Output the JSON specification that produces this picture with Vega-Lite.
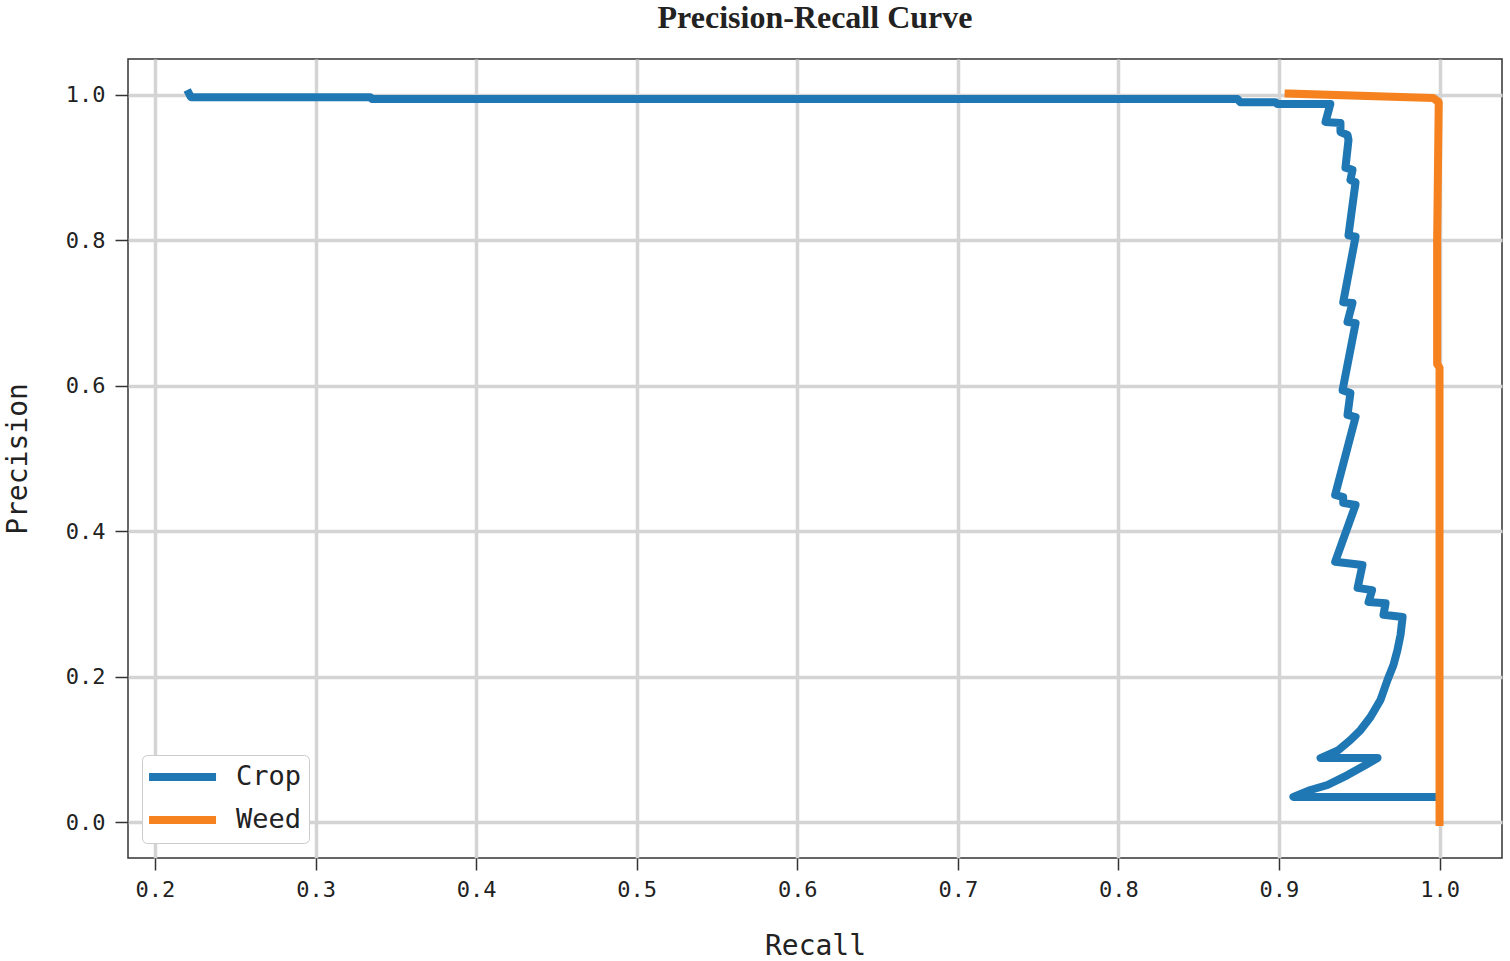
{
  "$schema": "https://vega.github.io/schema/vega-lite/v6.json",
  "autosize": {"type": "none"},
  "padding": {"left": 128, "top": 59, "right": 8, "bottom": 103},
  "width": 1374,
  "height": 799,
  "background": "white",
  "config": {
    "view": {"stroke": "#333333", "strokeWidth": 1.5},
    "font": "DejaVu Sans Mono"
  },
  "title": {
    "text": "Precision-Recall Curve",
    "font": "Liberation Serif",
    "fontSize": 32,
    "fontWeight": "bold",
    "color": "#222222",
    "anchor": "middle",
    "offset": 24
  },
  "data": {
    "values": [
      {"class": "Crop", "i": 0, "recall": 0.2212, "precision": 1.002},
      {"class": "Crop", "i": 1, "recall": 0.2224, "precision": 0.997},
      {"class": "Crop", "i": 2, "recall": 0.334, "precision": 0.997},
      {"class": "Crop", "i": 3, "recall": 0.3352, "precision": 0.9945},
      {"class": "Crop", "i": 4, "recall": 0.8741, "precision": 0.9945},
      {"class": "Crop", "i": 5, "recall": 0.876, "precision": 0.990},
      {"class": "Crop", "i": 6, "recall": 0.8978, "precision": 0.990},
      {"class": "Crop", "i": 7, "recall": 0.899, "precision": 0.9876},
      {"class": "Crop", "i": 8, "recall": 0.932, "precision": 0.9876},
      {"class": "Crop", "i": 9, "recall": 0.929, "precision": 0.963},
      {"class": "Crop", "i": 10, "recall": 0.9383, "precision": 0.9615},
      {"class": "Crop", "i": 11, "recall": 0.9383, "precision": 0.949},
      {"class": "Crop", "i": 12, "recall": 0.9427, "precision": 0.945},
      {"class": "Crop", "i": 13, "recall": 0.9433, "precision": 0.938},
      {"class": "Crop", "i": 14, "recall": 0.9414, "precision": 0.900},
      {"class": "Crop", "i": 15, "recall": 0.9458, "precision": 0.897},
      {"class": "Crop", "i": 16, "recall": 0.9445, "precision": 0.883},
      {"class": "Crop", "i": 17, "recall": 0.9477, "precision": 0.880},
      {"class": "Crop", "i": 18, "recall": 0.9433, "precision": 0.807},
      {"class": "Crop", "i": 19, "recall": 0.9477, "precision": 0.805},
      {"class": "Crop", "i": 20, "recall": 0.940, "precision": 0.715},
      {"class": "Crop", "i": 21, "recall": 0.9458, "precision": 0.714},
      {"class": "Crop", "i": 22, "recall": 0.9427, "precision": 0.688},
      {"class": "Crop", "i": 23, "recall": 0.9477, "precision": 0.686},
      {"class": "Crop", "i": 24, "recall": 0.9396, "precision": 0.594},
      {"class": "Crop", "i": 25, "recall": 0.9445, "precision": 0.590},
      {"class": "Crop", "i": 26, "recall": 0.9427, "precision": 0.560},
      {"class": "Crop", "i": 27, "recall": 0.9477, "precision": 0.557},
      {"class": "Crop", "i": 28, "recall": 0.935, "precision": 0.450},
      {"class": "Crop", "i": 29, "recall": 0.940, "precision": 0.447},
      {"class": "Crop", "i": 30, "recall": 0.940, "precision": 0.439},
      {"class": "Crop", "i": 31, "recall": 0.9477, "precision": 0.436},
      {"class": "Crop", "i": 32, "recall": 0.935, "precision": 0.358},
      {"class": "Crop", "i": 33, "recall": 0.952, "precision": 0.3535},
      {"class": "Crop", "i": 34, "recall": 0.949, "precision": 0.322},
      {"class": "Crop", "i": 35, "recall": 0.958, "precision": 0.319},
      {"class": "Crop", "i": 36, "recall": 0.9558, "precision": 0.3026},
      {"class": "Crop", "i": 37, "recall": 0.9664, "precision": 0.301},
      {"class": "Crop", "i": 38, "recall": 0.9651, "precision": 0.285},
      {"class": "Crop", "i": 39, "recall": 0.977, "precision": 0.282},
      {"class": "Crop", "i": 40, "recall": 0.9757, "precision": 0.2572},
      {"class": "Crop", "i": 41, "recall": 0.9738, "precision": 0.2366},
      {"class": "Crop", "i": 42, "recall": 0.9713, "precision": 0.216},
      {"class": "Crop", "i": 43, "recall": 0.9676, "precision": 0.1953},
      {"class": "Crop", "i": 44, "recall": 0.9632, "precision": 0.1678},
      {"class": "Crop", "i": 45, "recall": 0.957, "precision": 0.1444},
      {"class": "Crop", "i": 46, "recall": 0.9508, "precision": 0.1265},
      {"class": "Crop", "i": 47, "recall": 0.9445, "precision": 0.1128},
      {"class": "Crop", "i": 48, "recall": 0.9371, "precision": 0.099},
      {"class": "Crop", "i": 49, "recall": 0.9259, "precision": 0.088},
      {"class": "Crop", "i": 50, "recall": 0.9614, "precision": 0.088},
      {"class": "Crop", "i": 51, "recall": 0.9539, "precision": 0.0784},
      {"class": "Crop", "i": 52, "recall": 0.9427, "precision": 0.0646},
      {"class": "Crop", "i": 53, "recall": 0.9302, "precision": 0.0509},
      {"class": "Crop", "i": 54, "recall": 0.9196, "precision": 0.044},
      {"class": "Crop", "i": 55, "recall": 0.909, "precision": 0.0344},
      {"class": "Crop", "i": 56, "recall": 0.9988, "precision": 0.0344},
      {"class": "Weed", "i": 0, "recall": 0.906, "precision": 1.002},
      {"class": "Weed", "i": 1, "recall": 0.996, "precision": 0.996},
      {"class": "Weed", "i": 2, "recall": 0.9995, "precision": 0.99},
      {"class": "Weed", "i": 3, "recall": 0.9985, "precision": 0.80},
      {"class": "Weed", "i": 4, "recall": 0.9985, "precision": 0.63},
      {"class": "Weed", "i": 5, "recall": 1.0, "precision": 0.625},
      {"class": "Weed", "i": 6, "recall": 1.0, "precision": 0.0}
    ]
  },
  "mark": {"type": "line", "strokeWidth": 8, "strokeCap": "square", "strokeJoin": "round", "clip": true},
  "encoding": {
    "x": {
      "field": "recall",
      "type": "quantitative",
      "title": "Recall",
      "scale": {"domain": [0.1832, 1.0389], "nice": false, "zero": false},
      "axis": {
        "values": [0.2, 0.3, 0.4, 0.5, 0.6, 0.7, 0.8, 0.9, 1.0],
        "format": ".1f",
        "grid": true,
        "gridColor": "#d4d4d4",
        "gridWidth": 3.5,
        "domain": false,
        "tickSize": 12,
        "tickColor": "#333333",
        "tickWidth": 1.5,
        "labelFont": "DejaVu Sans Mono",
        "labelFontSize": 22,
        "labelColor": "#222222",
        "labelPadding": 9,
        "titleFont": "DejaVu Sans Mono",
        "titleFontSize": 28,
        "titleFontWeight": "normal",
        "titleColor": "#222222",
        "titlePadding": 32
      }
    },
    "y": {
      "field": "precision",
      "type": "quantitative",
      "title": "Precision",
      "scale": {"domain": [-0.0495, 1.0495], "nice": false, "zero": false},
      "axis": {
        "values": [0.0, 0.2, 0.4, 0.6, 0.8, 1.0],
        "format": ".1f",
        "grid": true,
        "gridColor": "#d4d4d4",
        "gridWidth": 3.5,
        "domain": false,
        "tickSize": 13,
        "tickColor": "#333333",
        "tickWidth": 1.5,
        "labelFont": "DejaVu Sans Mono",
        "labelFontSize": 22,
        "labelColor": "#222222",
        "labelPadding": 10,
        "titleFont": "DejaVu Sans Mono",
        "titleFontSize": 28,
        "titleFontWeight": "normal",
        "titleColor": "#222222",
        "titlePadding": 33
      }
    },
    "color": {
      "field": "class",
      "type": "nominal",
      "scale": {"domain": ["Crop", "Weed"], "range": ["#1f77b4", "#f5821f"]},
      "legend": {
        "title": null,
        "orient": "none",
        "legendX": 14,
        "legendY": 696,
        "symbolType": "M-1.36,0H4.73",
        "symbolSize": 484,
        "symbolStrokeWidth": 8,
        "labelFont": "DejaVu Sans Mono",
        "labelFontSize": 27,
        "labelColor": "#222222",
        "labelOffset": 57,
        "rowPadding": 11,
        "padding": 7,
        "fillColor": "white",
        "strokeColor": "#cccccc",
        "cornerRadius": 5
      }
    },
    "order": {"field": "i", "type": "quantitative"}
  }
}
